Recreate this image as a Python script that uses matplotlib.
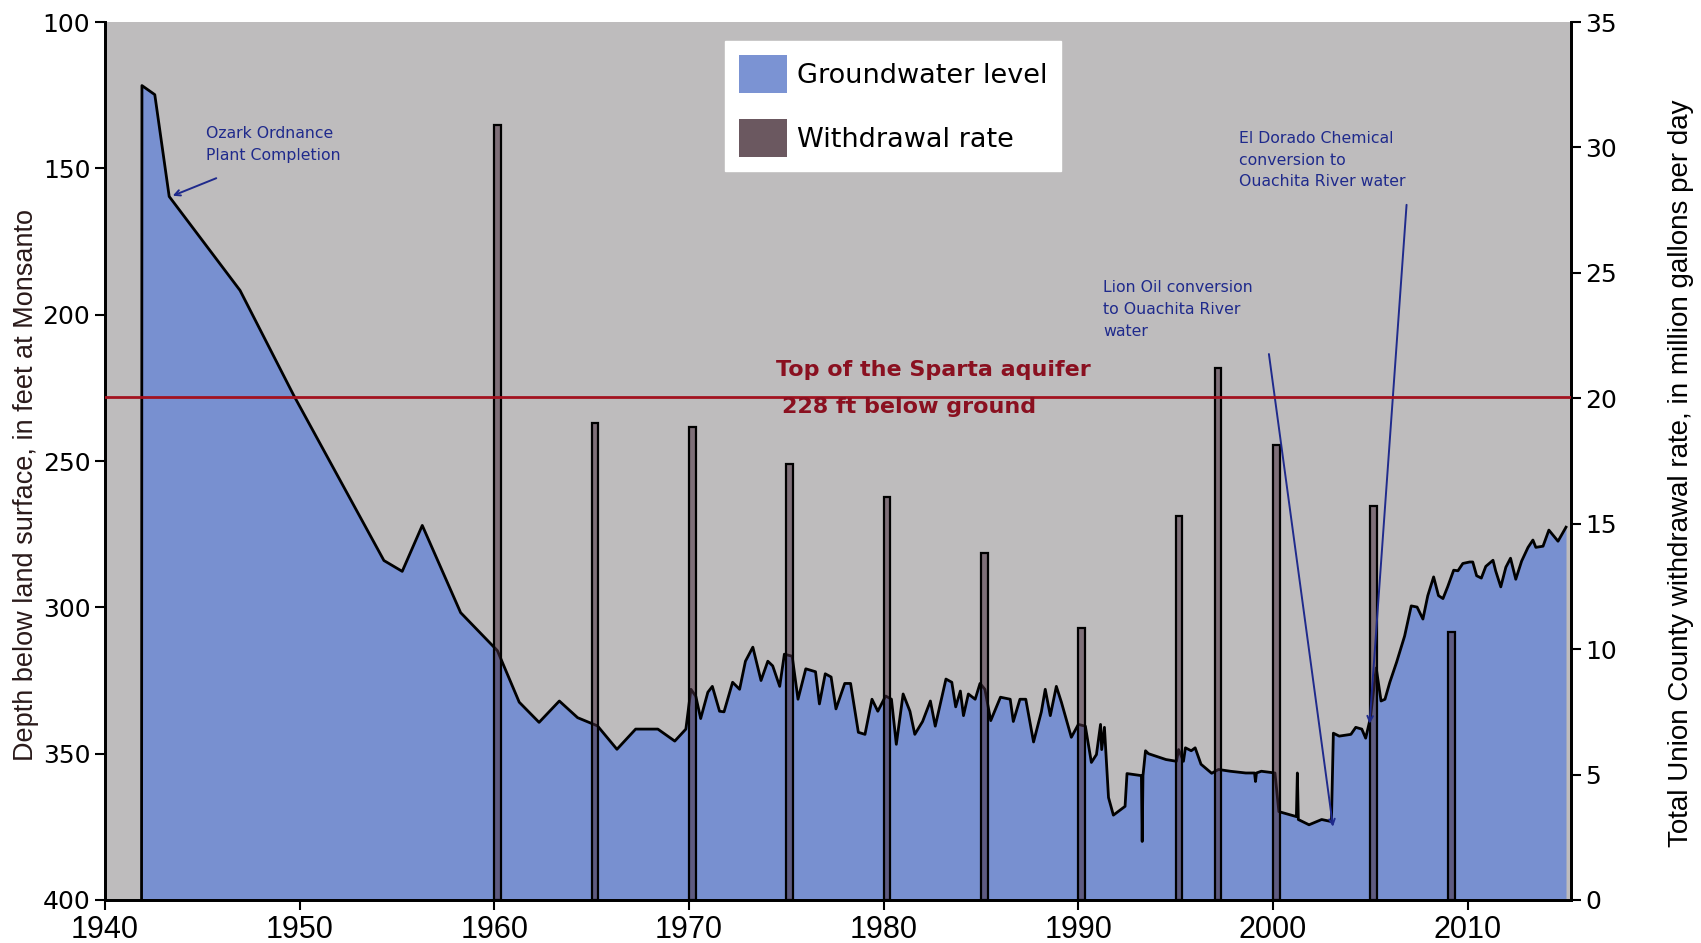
import matplotlib
matplotlib.use("Agg")
import matplotlib.pyplot as plt
from matplotlib.patches import Patch

# groundwater depth below land surface (ft) at Monsanto
gw_year = [1941.88, 1941.9, 1942.56, 1943.3, 1946.94, 1949.7, 1954.33, 1955.27, 1956.3, 1958.27,
           1960.16, 1961.28, 1962.3, 1963.34, 1964.28, 1965.3, 1966.3, 1967.26, 1968.4, 1969.27,
           1969.84, 1970.1, 1970.35, 1970.6, 1970.97, 1971.2, 1971.57, 1971.8, 1972.24, 1972.6,
           1972.9, 1973.28, 1973.7, 1974.05, 1974.3, 1974.66, 1974.9, 1975.3, 1975.6, 1976.0,
           1976.5, 1976.7, 1977.0, 1977.3, 1977.55, 1978.0, 1978.3, 1978.7, 1979.04, 1979.4,
           1979.7, 1980.1, 1980.4, 1980.65, 1981.0, 1981.35, 1981.6, 1982.0, 1982.4, 1982.65,
           1983.2, 1983.5, 1983.7, 1983.94, 1984.1, 1984.35, 1984.7, 1984.95, 1985.2, 1985.5,
           1986.0, 1986.5, 1986.66, 1987.0, 1987.3, 1987.7, 1988.1, 1988.3, 1988.56, 1988.87,
           1989.13, 1989.64, 1990.0, 1990.36, 1990.67, 1990.93, 1991.14, 1991.2, 1991.34, 1991.55,
           1991.8, 1992.4, 1992.5, 1993.24, 1993.28, 1993.32, 1993.45, 1993.6, 1994.5, 1995.04,
           1995.15, 1995.4, 1995.5, 1995.8, 1996.0, 1996.3, 1996.85, 1997.2, 1997.8, 1998.6,
           1999.05, 1999.1, 1999.15, 1999.4, 2000.1, 2000.3, 2001.2, 2001.25, 2001.3, 2001.85,
           2002.5, 2003.0, 2003.1, 2003.4, 2004.0, 2004.25, 2004.56, 2004.76, 2005.0, 2005.3,
           2005.55, 2005.75, 2006.0, 2006.35, 2006.76, 2007.1, 2007.4, 2007.7, 2007.95, 2008.25,
           2008.5, 2008.73, 2008.97, 2009.28, 2009.5, 2009.75, 2010.1, 2010.26, 2010.46, 2010.7,
           2010.93, 2011.3, 2011.44, 2011.7, 2011.96, 2012.2, 2012.47, 2012.77, 2013.1, 2013.35,
           2013.5, 2013.87, 2014.17, 2014.64, 2015.05]
gw_depth = [400, 121.7, 124.8, 159.6, 191.7, 227.6, 284, 287.7, 272, 301.8,
            314.8, 332.4, 339.3, 332, 337.7, 340.5, 348.5, 341.6, 341.6, 345.7,
            341.6, 328, 330.4, 338, 329, 327, 335.5, 335.7, 325.6, 328,
            318.4, 313.6, 325, 318.4, 320, 327, 316, 316.7, 331.4, 321,
            322, 333, 322.7, 323.8, 334.7, 326, 326, 342.7, 343.4, 331.4,
            335.5, 330.3, 331.4, 346.8, 329.6, 335.5, 343.4, 339, 332, 340.6,
            324.5, 325.6, 334, 328.6, 337, 329.6, 331.4, 326, 328, 338.7,
            330.7, 331.4, 339, 331.4, 331.4, 346, 335.7, 328, 337, 327,
            332.4, 344.4, 340, 340.6, 353, 350.3, 340, 348.6, 341, 365,
            371, 368, 356.8, 357.5, 380, 357.5, 349, 350, 352, 352.6,
            348.6, 352.6, 348, 349, 348, 353.6, 356.7, 355.4, 356, 356.6,
            356.6, 359.5, 356.6, 356, 356.6, 369.8, 371.5, 356.6, 372.5, 374.3,
            372.5, 373.2, 343, 344, 343.4, 341, 341.6, 344.7, 337.8, 320.7,
            332, 331.4, 325.6, 318.7, 309.8, 299.5, 299.9, 304, 296, 289.6,
            296, 297, 293, 287.3, 287.5, 285, 284.5, 284.5, 289.2, 290,
            286, 283.9, 287.6, 293, 286.3, 283.2, 290.4, 284.2, 279.5, 277,
            279.5, 279.1, 273.6, 277.4, 272.6]

# total Union County withdrawal rate (million gallons per day)
wd_year = [1960, 1965, 1970, 1975, 1980, 1985, 1990, 1995, 1997, 2000, 2005, 2009]
wd_rate = [30.9, 19.0, 18.85, 17.4, 16.07, 13.85, 10.86, 15.3, 21.2, 18.15, 15.7, 10.7]

sparta_top = 228

navy = "#1f2a8c"
red = "#a3121f"

fig = plt.figure(figsize=(17.01, 9.43), dpi=100)
ax = fig.add_axes([0.0617, 0.0456, 0.8618, 0.931])
ax.set_facecolor("#bebcbd")
ax.fill_between(gw_year, gw_depth, 400, color="#7890d0", lw=0, zorder=1)
ax.plot(gw_year, gw_depth, color="black", lw=2, zorder=2)
ax.set_xlim(1940, 2015.3)
ax.set_ylim(400, 100)
ax.set_yticks([100, 150, 200, 250, 300, 350, 400])
ax.set_xticks(range(1940, 2011, 10))

ax2 = ax.twinx()
ax2.bar(wd_year, wd_rate, width=0.35, align="edge", color="#4a3040", alpha=0.55,
        edgecolor="none", zorder=3)
ax2.bar(wd_year, wd_rate, width=0.35, align="edge", facecolor="none",
        edgecolor="black", lw=1.6, zorder=3)
ax2.set_ylim(0, 35)
ax2.set_yticks(range(0, 36, 5))

for a in (ax, ax2):
    a.spines["top"].set_visible(False)
    for s in ("left", "right", "bottom"):
        a.spines[s].set_linewidth(2)
    a.tick_params(direction="out", length=7, width=1.5)

for lab in ax.get_yticklabels():
    lab.set_fontsize(18)
for lab in ax2.get_yticklabels():
    lab.set_fontsize(18)
for lab in ax.get_xticklabels():
    lab.set_fontsize(22)
    lab.set_family(["Liberation Sans Narrow", "Liberation Sans"])

ax.set_ylabel("Depth below land surface, in feet at Monsanto", fontsize=19.5,
              family="Liberation Sans", color="#2a1a1a")
ax.yaxis.set_label_coords(-0.045, 0.473)
ax2.set_ylabel("Total Union County withdrawal rate, in million gallons per day",
               fontsize=20, family=["Liberation Sans Narrow", "Liberation Sans"])
ax2.yaxis.set_label_coords(1.066, 0.486)

# top of the Sparta aquifer
ax2.plot([1940, 2015.3], [sparta_top, sparta_top], color=red, lw=2,
         transform=ax.transData, zorder=4)
ax2.text(1982.56, 219, "Top of the Sparta aquifer", color="#8a1020", fontsize=16,
         fontweight="bold", ha="center", va="center", transform=ax.transData, zorder=5)
ax2.text(1981.3, 231.5, "228 ft below ground", color="#8a1020", fontsize=16,
         fontweight="bold", ha="center", va="center", transform=ax.transData, zorder=5)

# annotations
arrow = dict(arrowstyle="->", color=navy, lw=1.4)
ax2.annotate("Ozark Ordnance\nPlant Completion", xy=(1943.35, 159.7), xytext=(1945.2, 135.5),
             xycoords=ax.transData, textcoords=ax.transData, fontsize=11.3, color=navy,
             ha="left", va="top", linespacing=1.55)
ax2.annotate("", xy=(1943.35, 159.7), xytext=(1945.85, 153), xycoords=ax.transData,
             textcoords=ax.transData, arrowprops=arrow)
ax2.annotate("Lion Oil conversion\nto Ouachita River\nwater", xy=(2003.1, 375.9),
             xytext=(1991.26, 188.3), xycoords=ax.transData, textcoords=ax.transData,
             fontsize=11.3, color=navy, ha="left", va="top", linespacing=1.55)
ax2.annotate("", xy=(2003.1, 375.9), xytext=(1999.77, 212.5), xycoords=ax.transData,
             textcoords=ax.transData, arrowprops=arrow)
ax2.annotate("El Dorado Chemical\nconversion to\nOuachita River water", xy=(2004.95, 340.7),
             xytext=(1998.26, 137.3), xycoords=ax.transData, textcoords=ax.transData,
             fontsize=11.3, color=navy, ha="left", va="top", linespacing=1.55)
ax2.annotate("", xy=(2004.95, 340.7), xytext=(2006.87, 161.5), xycoords=ax.transData,
             textcoords=ax.transData, arrowprops=arrow)

handles = [Patch(facecolor="#7b93d3", edgecolor="none", label="Groundwater level"),
           Patch(facecolor="#6b5860", edgecolor="none", label="Withdrawal rate")]
leg = ax2.legend(handles=handles, loc="upper left", bbox_to_anchor=(0.423, 0.978),
                 fontsize=19.5, handlelength=1.8, handleheight=1.8, labelspacing=0.95,
                 borderpad=0.5, handletextpad=0.35, borderaxespad=0, fancybox=False,
                 framealpha=1, facecolor="white", edgecolor="white")
leg.set_zorder(10)

fig.savefig("out.png", dpi=100)
